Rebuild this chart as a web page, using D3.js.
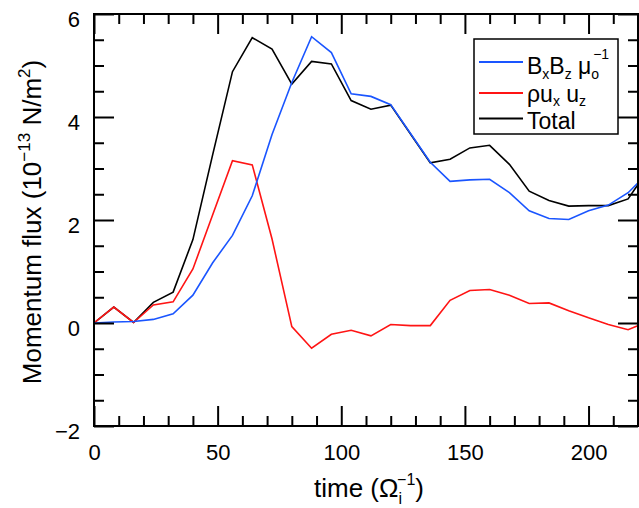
<!DOCTYPE html>
<html>
<head>
<meta charset="utf-8">
<script src="https://cdn.jsdelivr.net/npm/d3@7"></script>
<style>
  body { margin: 0; background: #fff; }
  svg { display: block; font-family: "Liberation Sans", Arial, Helvetica, sans-serif; }
</style>
</head>
<body>
<svg id="chart" width="639" height="508"></svg>
<script>
// time in 1/Omega_i
var times = [0, 8, 16, 24, 32, 40, 48, 56, 64, 72, 80, 88, 96, 104, 112, 120, 128, 136, 144, 152, 160, 168, 176, 184, 192, 200, 208, 216, 224];
var magnetic = [0, 0.02, 0.03, 0.07, 0.18, 0.54, 1.17, 1.70, 2.47, 3.66, 4.67, 5.56, 5.25, 4.45, 4.40, 4.24, 3.68, 3.12, 2.75, 2.78, 2.79, 2.53, 2.18, 2.03, 2.01, 2.18, 2.29, 2.53, 2.91];
var reynolds = [0, 0.31, 0.01, 0.35, 0.41, 1.05, 2.10, 3.15, 3.07, 1.63, -0.07, -0.49, -0.22, -0.14, -0.25, -0.03, -0.05, -0.05, 0.44, 0.63, 0.65, 0.54, 0.38, 0.39, 0.24, 0.10, -0.03, -0.13, 0.03];
var total = [0, 0.31, 0.01, 0.40, 0.60, 1.62, 3.27, 4.88, 5.54, 5.32, 4.64, 5.08, 5.03, 4.32, 4.15, 4.23, 3.67, 3.11, 3.18, 3.40, 3.45, 3.08, 2.56, 2.38, 2.27, 2.28, 2.28, 2.41, 2.97];

var xMajor = [0, 50, 100, 150, 200];
var xMinor = [10, 20, 30, 40, 60, 70, 80, 90, 110, 120, 130, 140, 160, 170, 180, 190, 210, 220];
var yMajor = [-2, 0, 2, 4, 6];
var yMinor = [-1.5, -1, -0.5, 0.5, 1, 1.5, 2.5, 3, 3.5, 4.5, 5, 5.5];

var svg = d3.select("#chart");
var pLeft = 94, pRight = 638, pTop = 14, pBottom = 426;

var x = d3.scaleLinear().domain([0, 220]).range([pLeft, pRight]);
var y = d3.scaleLinear().domain([-2, 6]).range([pBottom, pTop]);

svg.append("clipPath").attr("id", "clip")
  .append("rect").attr("x", pLeft).attr("y", pTop).attr("width", pRight - pLeft).attr("height", pBottom - pTop);

// data lines
var series = [
  {vals: total, color: "#000000"},
  {vals: reynolds, color: "#ff1414"},
  {vals: magnetic, color: "#1a55ff"}
];
var line = d3.line().x(function (d) { return x(d[0]); }).y(function (d) { return y(d[1]); });
series.forEach(function (s) {
  svg.append("path")
    .attr("clip-path", "url(#clip)")
    .attr("d", line(times.map(function (t, i) { return [t, s.vals[i]]; })))
    .style("fill", "none")
    .style("stroke", s.color)
    .style("stroke-width", 1.6)
    .style("stroke-linejoin", "miter");
});

// ticks, all pointing inward
function ticks(axis, vals, size, pos, labels) {
  var g = svg.append("g").attr("transform", pos)
    .call(axis.tickValues(vals).tickSize(-size).tickSizeOuter(0).tickPadding(0)
      .tickFormat(labels ? d3.format("d") : ""));
  g.select(".domain").remove();
  g.selectAll(".tick line").style("stroke", "#000").style("stroke-width", 2);
  return g;
}
var bx = ticks(d3.axisBottom(x), xMajor, 20, "translate(0," + pBottom + ")", true);
ticks(d3.axisBottom(x), xMinor, 10, "translate(0," + pBottom + ")", false);
ticks(d3.axisTop(x), xMajor, 20, "translate(0," + pTop + ")", false);
ticks(d3.axisTop(x), xMinor, 10, "translate(0," + pTop + ")", false);
var ly = ticks(d3.axisLeft(y), yMajor, 20, "translate(" + pLeft + ",0)", true);
ticks(d3.axisLeft(y), yMinor, 10, "translate(" + pLeft + ",0)", false);
ticks(d3.axisRight(y), yMajor, 20, "translate(" + pRight + ",0)", false);
ticks(d3.axisRight(y), yMinor, 10, "translate(" + pRight + ",0)", false);

bx.selectAll(".tick text").attr("y", 34).attr("dy", 0)
  .style("font-size", "22px").style("font-family", "Liberation Sans, Arial").style("fill", "#000");
ly.selectAll(".tick text").attr("x", -14).attr("dy", 12)
  .style("font-size", "22px").style("font-family", "Liberation Sans, Arial").style("fill", "#000");

// frame
svg.append("rect")
  .attr("x", pLeft).attr("y", pTop).attr("width", pRight - pLeft).attr("height", pBottom - pTop)
  .style("fill", "none").style("stroke", "#000").style("stroke-width", 2);

// axis titles
var xt = svg.append("text").attr("x", 369).attr("y", 497).attr("text-anchor", "middle")
  .style("font-size", "26px");
xt.append("tspan").text("time (\u03a9");
xt.append("tspan").attr("dy", 7).style("font-size", "16px").text("i");
xt.append("tspan").attr("dx", -5).attr("dy", -19).style("font-size", "16px").text("\u22121");
xt.append("tspan").attr("dy", 12).text(")");

var yt = svg.append("text").attr("transform", "translate(41,222) rotate(-90)")
  .attr("text-anchor", "middle").style("font-size", "26px");
yt.append("tspan").text("Momentum flux (10");
yt.append("tspan").attr("dy", -11).style("font-size", "17px").text("\u221213");
yt.append("tspan").attr("dy", 11).text(" N/m");
yt.append("tspan").attr("dy", -11).style("font-size", "17px").text("2");
yt.append("tspan").attr("dy", 11).text(")");

// legend
var lg = svg.append("g");
lg.append("rect").attr("x", 474).attr("y", 39).attr("width", 144).attr("height", 95)
  .style("fill", "#fff").style("stroke", "#000").style("stroke-width", 1.5);
[[62, "#1a55ff"], [93, "#ff1414"], [118.5, "#000"]].forEach(function (r) {
  lg.append("line").attr("x1", 479).attr("x2", 523).attr("y1", r[0]).attr("y2", r[0])
    .style("stroke", r[1]).style("stroke-width", 2);
});
var t1 = lg.append("text").attr("x", 527).attr("y", 74).style("font-size", "23px");
t1.append("tspan").text("B");
t1.append("tspan").attr("dy", 5).style("font-size", "14px").text("x");
t1.append("tspan").attr("dy", -5).text("B");
t1.append("tspan").attr("dy", 5).style("font-size", "14px").text("z");
t1.append("tspan").attr("dy", -5).text(" \u03bc");
t1.append("tspan").attr("dy", 5).style("font-size", "14px").text("o");
t1.append("tspan").attr("dx", -6).attr("dy", -20).style("font-size", "14px").text("\u22121");

var t2 = lg.append("text").attr("x", 527).attr("y", 102).style("font-size", "23px");
t2.append("tspan").text("\u03c1u");
t2.append("tspan").attr("dy", 4).style("font-size", "14px").text("x");
t2.append("tspan").attr("dy", -4).text(" u");
t2.append("tspan").attr("dy", 4).style("font-size", "14px").text("z");

lg.append("text").attr("x", 527).attr("y", 129).style("font-size", "23px").text("Total");
</script>
</body>
</html>
